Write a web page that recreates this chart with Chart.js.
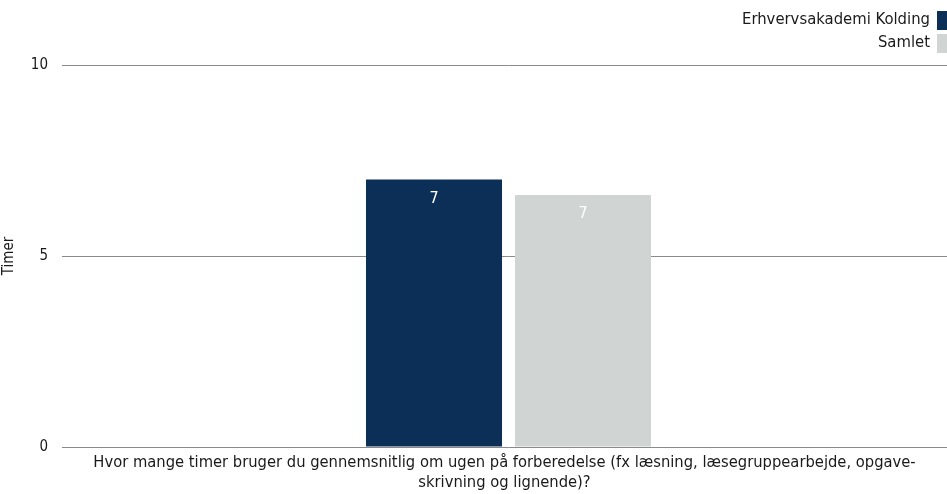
<!DOCTYPE html>
<html>
<head>
<meta charset="utf-8">
<script src="https://cdn.jsdelivr.net/npm/chart.js@4/dist/chart.umd.min.js"></script>
<style>
  html, body { margin: 0; padding: 0; background: #fff; overflow: hidden; }
  #clip { width: 947px; height: 494px; overflow: hidden; }
  #wrap { width: 955px; height: 494px; position: relative; }
</style>
</head>
<body>
<div id="clip"><div id="wrap"><canvas id="chart"></canvas></div></div>
<script>
const categories = [['Hvor mange timer bruger du gennemsnitlig om ugen på forberedelse (fx læsning, læsegruppearbejde, opgave-', 'skrivning og lignende)?']];
const seriesNames = ['Erhvervsakademi Kolding', 'Samlet'];
const kolding = [7.0];
const samlet = [6.6];
const yTicks = [0, 5, 10];
const colors = ['#0b2f57', '#d0d4d3'];

const FONT = '"DejaVu Sans Condensed", "DejaVu Sans", sans-serif';
const TEXT = '#1a1a1a';

// legend stacked on the right, box after the text
const sideLegend = {
  id: 'sideLegend',
  afterDraw(chart) {
    const ctx = chart.ctx;
    ctx.save();
    ctx.font = '16.5px ' + FONT;
    ctx.textAlign = 'right';
    ctx.textBaseline = 'middle';
    seriesNames.forEach((name, i) => {
      const y = 20 + i * 23;
      ctx.fillStyle = TEXT;
      ctx.fillText(name, 930, y);
      ctx.fillStyle = colors[i];
      ctx.fillRect(937, y - 9, 10, 19);
    });
    ctx.restore();
  }
};

// value labels inside the top of each bar
const valueLabels = {
  id: 'valueLabels',
  afterDatasetsDraw(chart) {
    const ctx = chart.ctx;
    ctx.save();
    ctx.font = '16px ' + FONT;
    ctx.fillStyle = '#fff';
    ctx.textAlign = 'center';
    ctx.textBaseline = 'middle';
    chart.data.datasets.forEach((ds, di) => {
      chart.getDatasetMeta(di).data.forEach((bar, i) => {
        ctx.fillText(Math.round(ds.data[i]), bar.x, bar.y + 19);
      });
    });
    ctx.restore();
  }
};

new Chart(document.getElementById('chart'), {
  type: 'bar',
  data: {
    labels: categories,
    datasets: [
      { label: seriesNames[0], data: kolding, backgroundColor: colors[0] },
      { label: seriesNames[1], data: samlet, backgroundColor: colors[1] }
    ]
  },
  options: {
    responsive: true, maintainAspectRatio: false,
    animation: false,
    layout: { padding: { top: 65, left: 0, right: 0, bottom: 0 } },
    categoryPercentage: 0.3337,
    barPercentage: 0.913,
    plugins: {
      legend: { display: false },
      tooltip: { enabled: false }
    },
    scales: {
      x: {
        grid: { display: false, drawTicks: false },
        border: { display: false },
        ticks: { color: TEXT, font: { family: FONT, size: 16.4, lineHeight: 1.22 }, maxRotation: 0, padding: 6, labelOffset: -4 },
        afterFit: s => { s.height = 47; s.paddingLeft = 0; s.paddingRight = 0; }
      },
      y: {
        min: 0, max: 10,
        afterBuildTicks: s => { s.ticks = yTicks.map(v => ({ value: v })); },
        grid: { color: '#8a8a8a', drawTicks: false },
        border: { display: false },
        ticks: { color: TEXT, font: { family: FONT, size: 15 }, padding: 14 },
        title: { display: true, text: 'Timer', color: TEXT, font: { family: FONT, size: 15 }, padding: { top: 0, bottom: 4 } },
        afterFit: s => { s.width = 62; }
      }
    }
  },
  plugins: [sideLegend, valueLabels]
});
</script>
</body>
</html>
